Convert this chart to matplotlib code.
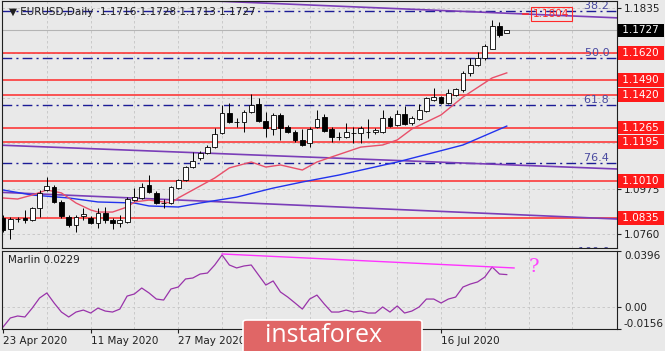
import matplotlib
matplotlib.use("Agg")
import matplotlib.pyplot as plt
import numpy as np
from matplotlib.patches import FancyBboxPatch
from matplotlib.transforms import blended_transform_factory

# EURUSD daily candles, bar 0 = 23 Apr 2020
opens = [1.0835, 1.0782, 1.0830, 1.0835, 1.0825, 1.0882, 1.0968, 1.0982, 1.0911, 1.0839,
         1.0801, 1.0844, 1.0835, 1.0811, 1.0858, 1.0825, 1.0811, 1.0815, 1.0920, 1.0930,
         1.0992, 1.0954, 1.0906, 1.0906, 1.0977, 1.1015, 1.1077, 1.1120, 1.1144, 1.1172,
         1.1239, 1.1334, 1.1291, 1.1291, 1.1339, 1.1377, 1.1296, 1.1258, 1.1325, 1.1268,
         1.1244, 1.1206, 1.1192, 1.1268, 1.1315, 1.1258, 1.1220, 1.1220, 1.1239, 1.1239,
         1.1244, 1.1244, 1.1244, 1.1311, 1.1277, 1.1330, 1.1287, 1.1306, 1.1344, 1.1396,
         1.1410, 1.1382, 1.1420, 1.1444, 1.1525, 1.1563, 1.1596, 1.1639, 1.1748, 1.1716]
highs = [1.0849, 1.0839, 1.0839, 1.0873, 1.0887, 1.0968, 1.1030, 1.0992, 1.0920, 1.0849,
         1.0849, 1.0882, 1.0844, 1.0882, 1.0887, 1.0835, 1.0849, 1.0934, 1.0977, 1.1001,
         1.1039, 1.0963, 1.0925, 1.0987, 1.1020, 1.1082, 1.1149, 1.1153, 1.1182, 1.1263,
         1.1372, 1.1382, 1.1311, 1.1349, 1.1425, 1.1406, 1.1339, 1.1334, 1.1334, 1.1277,
         1.1253, 1.1258, 1.1268, 1.1349, 1.1330, 1.1268, 1.1244, 1.1287, 1.1268, 1.1272,
         1.1306, 1.1263, 1.1349, 1.1320, 1.1349, 1.1368, 1.1320, 1.1377, 1.1410, 1.1453,
         1.1415, 1.1449, 1.1453, 1.1534, 1.1596, 1.1625, 1.1663, 1.1777, 1.1767, 1.1728]
lows = [1.0768, 1.0735, 1.0815, 1.0811, 1.0820, 1.0839, 1.0963, 1.0906, 1.0835, 1.0792,
        1.0768, 1.0825, 1.0806, 1.0787, 1.0811, 1.0782, 1.0792, 1.0811, 1.0915, 1.0925,
        1.0954, 1.0901, 1.0882, 1.0901, 1.0973, 1.1011, 1.1073, 1.1111, 1.1139, 1.1168,
        1.1234, 1.1287, 1.1268, 1.1244, 1.1334, 1.1291, 1.1220, 1.1230, 1.1206, 1.1239,
        1.1196, 1.1177, 1.1172, 1.1263, 1.1244, 1.1196, 1.1206, 1.1215, 1.1192, 1.1192,
        1.1215, 1.1234, 1.1239, 1.1268, 1.1272, 1.1277, 1.1277, 1.1301, 1.1339, 1.1391,
        1.1377, 1.1377, 1.1415, 1.1434, 1.1510, 1.1558, 1.1587, 1.1639, 1.1696, 1.1713]
closes = [1.0777, 1.0830, 1.0832, 1.0825, 1.0882, 1.0954, 1.0987, 1.0911, 1.0844, 1.0801,
          1.0839, 1.0854, 1.0811, 1.0858, 1.0825, 1.0811, 1.0825, 1.0925, 1.0934, 1.0982,
          1.0958, 1.0906, 1.0908, 1.0982, 1.1015, 1.1077, 1.1106, 1.1144, 1.1172, 1.1234,
          1.1334, 1.1291, 1.1293, 1.1339, 1.1372, 1.1296, 1.1263, 1.1325, 1.1263, 1.1244,
          1.1206, 1.1182, 1.1258, 1.1306, 1.1249, 1.1220, 1.1222, 1.1244, 1.1241, 1.1263,
          1.1246, 1.1253, 1.1311, 1.1272, 1.1330, 1.1282, 1.1311, 1.1349, 1.1406, 1.1410,
          1.1382, 1.1430, 1.1449, 1.1525, 1.1563, 1.1596, 1.1653, 1.1748, 1.1706, 1.1727]

# moving averages
ma_fast_idx = [0, 2, 4, 6, 8, 10, 12, 13, 15, 17, 18, 20, 22, 23, 24, 26, 29, 31, 34, 36,
               38, 41, 43, 45, 49, 52, 54, 56, 60, 63, 67, 69]
ma_fast = [1.0930, 1.0925, 1.0944, 1.0968, 1.0954, 1.0906, 1.0873, 1.0863, 1.0863, 1.0887,
           1.0911, 1.0920, 1.0911, 1.0906, 1.0930, 1.0968, 1.1025, 1.1073, 1.1101, 1.1077,
           1.1087, 1.1063, 1.1101, 1.1125, 1.1172, 1.1182, 1.1206, 1.1258, 1.1325, 1.1410,
           1.1501, 1.1525]
ma_slow_idx = [0, 4, 9, 13, 18, 20, 24, 27, 32, 37, 41, 46, 54, 63, 69]
ma_slow = [1.0968, 1.0944, 1.0930, 1.0911, 1.0906, 1.0892, 1.0887, 1.0906, 1.0934, 1.0977,
           1.1006, 1.1039, 1.1101, 1.1182, 1.1272]

# purple trend lines (bar index, price pairs)
trend_lines = [([20, 84], [1.1880, 1.1787]),
               ([-1, 84], [1.1182, 1.1068]),
               ([-1, 84], [1.0958, 1.0830])]

red_levels = [1.1620, 1.1490, 1.1420, 1.1265, 1.1195, 1.1010, 1.0835]
fib_names = ['38.2', '50.0', '61.8', '76.4', '100.0']
fib_prices = [1.1820, 1.1596, 1.1372, 1.1095, 1.0650]
level_1804 = 1.1804
last_price = 1.1727
price_ticks = [1.1835, 1.0975, 1.0760]
grid_prices = [1.1835, 1.1620, 1.1405, 1.1190, 1.0975, 1.0760]

# Marlin oscillator
marlin = [-0.0142, -0.0078, -0.0064, -0.0071, -0.0008, 0.0063, 0.0099, 0.0028, -0.0036, -0.0071,
          -0.0036, -0.0022, -0.0043, -0.0008, -0.0029, -0.0036, -0.0015, 0.0077, 0.0092, 0.0134,
          0.0099, 0.0056, 0.0049, 0.0127, 0.0141, 0.0198, 0.0205, 0.0233, 0.0240, 0.0297,
          0.0368, 0.0297, 0.0276, 0.0290, 0.0297, 0.0226, 0.0155, 0.0184, 0.0106, 0.0070,
          0.0028, -0.0015, 0.0056, 0.0084, 0.0021, -0.0036, -0.0036, -0.0022, -0.0036, -0.0029,
          -0.0043, -0.0043, 0.0000, -0.0036, 0.0007, -0.0043, -0.0029, 0.0000, 0.0056, 0.0056,
          0.0028, 0.0056, 0.0070, 0.0141, 0.0162, 0.0177, 0.0212, 0.0283, 0.0233, 0.0229]
div_idx = [30, 70]
div_vals = [0.0375, 0.0276]
marlin_ticks = [0.0396, 0.00, -0.0156]
marlin_tick_labels = ['0.0396', '0.00', '-0.0156']

date_idx = [0, 12, 24, 60]
date_labels = ['23 Apr 2020', '11 May 2020', '27 May 2020', '16 Jul 2020']

W, H = 665, 351
BG = '#e9e9e9'
fig = plt.figure(figsize=(W / 100, H / 100), dpi=100, facecolor=BG)
ax = fig.add_axes([2 / W, 1 - 248 / H, 615 / W, 247 / H], facecolor=BG)
ind = fig.add_axes([2 / W, 1 - 329 / H, 615 / W, 78 / H], facecolor=BG)

xmin, xmax = -0.14, 84.1
for a in (ax, ind):
    a.set_xlim(xmin, xmax)
    for s in a.spines.values():
        s.set_color('#202020')
        s.set_linewidth(0.8)
    for gx in range(6, 84, 6):
        a.axvline(gx, color='#c4c4c4', lw=0.6, ls=(0, (3, 3)), zorder=0)

ax.set_ylim(1.0692, 1.1867)
for gp in grid_prices:
    ax.axhline(gp, color='#c4c4c4', lw=0.6, ls=(0, (3, 3)), zorder=0)

# levels
for lv in red_levels:
    ax.axhline(lv, color='#ff2a2a', lw=1.1, zorder=1)
for name, fp in zip(fib_names, fib_prices):
    ax.axhline(fp, color='#1c1c96', lw=1.0, ls=(0, (7, 3, 1.5, 3)), zorder=1)
    ax.text(0.993, fp, name + ' ', transform=blended_transform_factory(ax.transAxes, ax.transData),
            ha='right', va='bottom', fontsize=8, color='#4a4aa0', clip_on=True, zorder=2)
ax.axhline(last_price, color='#b4b4b4', lw=0.8, zorder=1)

for xs, ys in trend_lines:
    ax.plot(xs, ys, color='#7a3db8', lw=1.2, zorder=1)

ax.plot(ma_slow_idx, ma_slow, color='#2233ee', lw=1.0, zorder=2)
ax.plot(ma_fast_idx, ma_fast, color='#e8506a', lw=1.0, zorder=2)

# candles
idx = np.arange(len(closes))
o = np.array(opens); c = np.array(closes)
ax.vlines(idx, lows, highs, color='black', lw=0.7, zorder=3)
up = c >= o
ax.bar(idx[up], np.maximum(c[up] - o[up], 0.00005), bottom=o[up], width=0.65,
       facecolor='white', edgecolor='black', lw=0.6, zorder=4)
ax.bar(idx[~up], o[~up] - c[~up], bottom=c[~up], width=0.65,
       facecolor='black', edgecolor='black', lw=0.6, zorder=4)

# 1.1804 price label
ax.plot([71.2, 71.9], [level_1804, level_1804], color='#ff2a2a', lw=1.2)
ax.text(72.6, level_1804, '1.1804', color='#ff2a2a', fontsize=7.5, va='center', ha='left',
        bbox=dict(boxstyle='square,pad=0.2', fc='none', ec='#ff2a2a', lw=0.8))

ax.text(0.012, 0.955, '\u25bc EURUSD,Daily  1.1716 1.1728 1.1713 1.1727', transform=ax.transAxes,
        fontsize=7.5, color='#202020', va='center', ha='left')

# right price axis
ax.yaxis.tick_right()
ax.set_yticks(price_ticks)
ax.set_yticklabels(['%.4f' % p for p in price_ticks], fontsize=7.5)
ax.tick_params(axis='y', length=3, pad=2, colors='#202020')
ax.set_xticks([])
tr = blended_transform_factory(ax.transAxes, ax.transData)
for lv in red_levels:
    ax.text(1.004, lv, ' %.4f ' % lv, transform=tr, fontsize=7.5, color='white', va='center',
            ha='left', clip_on=False, zorder=6,
            bbox=dict(boxstyle='square,pad=0.18', fc='#ff1a1a', ec='none'))
ax.text(1.004, last_price, ' %.4f ' % last_price, transform=tr, fontsize=7.5, color='white',
        va='center', ha='left', clip_on=False, zorder=6,
        bbox=dict(boxstyle='square,pad=0.18', fc='black', ec='none'))

# Marlin panel
ind.set_ylim(-0.0156, 0.0396)
ind.axhline(0, color='#c4c4c4', lw=0.6, ls=(0, (3, 3)), zorder=0)
ind.plot(idx, marlin, color='#9933aa', lw=0.9, zorder=2)
ind.plot(div_idx, div_vals, color='#ff33ff', lw=1.0, zorder=2)
ind.text(72, 0.028, '?', color='#ff44ff', fontsize=14, family='DejaVu Serif', va='center', ha='left')
ind.text(0.01, 0.88, 'Marlin 0.0229', transform=ind.transAxes, fontsize=7.5, color='#202020',
         va='center', ha='left')
ind.yaxis.tick_right()
ind.set_yticks(marlin_ticks)
ind.set_yticklabels(marlin_tick_labels, fontsize=7.5)
ind.tick_params(axis='y', length=3, pad=2, colors='#202020')
ytl = ind.get_yticklabels()
ytl[0].set_verticalalignment('top')
ytl[2].set_verticalalignment('bottom')
ind.set_xticks(date_idx)
ind.set_xticklabels(date_labels, fontsize=7.5, ha='left')
ind.tick_params(axis='x', length=3, pad=2, colors='#202020')

# watermark
fig.patches.append(FancyBboxPatch((243 / W, -0.02), 179 / W, 31 / H + 0.02,
                                  boxstyle='round,pad=0,rounding_size=0.006',
                                  transform=fig.transFigure, fc='#e06666', ec='white', lw=1.2,
                                  zorder=10))
fig.text(324 / W, 1 - 336 / H, 'instaforex', color='white', fontsize=18, family='Open Sans',
         ha='center', va='center', zorder=11)

fig.savefig('out.png', dpi=100, facecolor=BG)
